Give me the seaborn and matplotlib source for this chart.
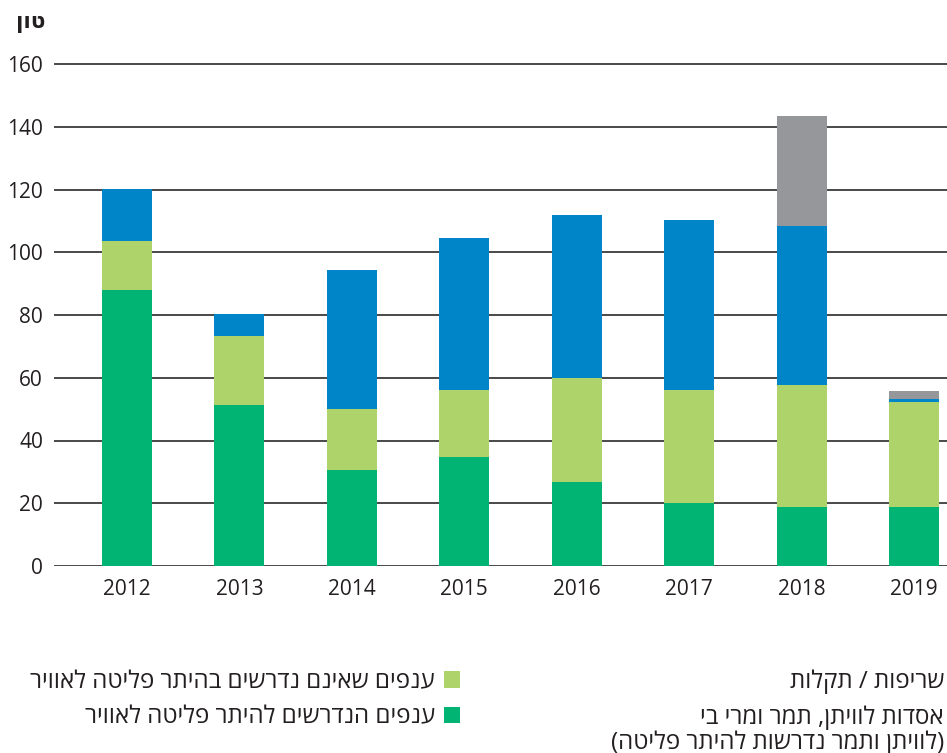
import numpy as np
import pandas as pd
import matplotlib
matplotlib.use("Agg")
import matplotlib.pyplot as plt
import seaborn as sns
from matplotlib.patches import Patch
from matplotlib import font_manager as fm

# ---------------- data ----------------
years = ["2012", "2013", "2014", "2015", "2016", "2017", "2018", "2019"]
permit_required = [88.0, 51.3, 30.6, 34.7, 26.8, 20.1, 18.8, 18.8]
permit_not_required = [15.6, 22.0, 19.4, 21.4, 33.1, 36.0, 38.9, 33.5]
rigs = [16.4, 7.0, 44.3, 48.4, 52.0, 54.2, 50.7, 0.9]
fires_failures = [0.0, 0.0, 0.0, 0.0, 0.0, 0.0, 35.0, 2.6]
y_ticks = [0, 20, 40, 60, 80, 100, 120, 140, 160]

unit_label = "טון"
lbl_not_required = "ענפים שאינם נדרשים בהיתר פליטה לאוויר"
lbl_required = "ענפים הנדרשים להיתר פליטה לאוויר"
lbl_fires = "שריפות / תקלות"
lbl_rigs = "אסדות לוויתן, תמר ומרי בי\n(לוויתן ותמר נדרשות להיתר פליטה)"

c_required = "#02B474"
c_not_required = "#ADD36A"
c_rigs = "#0085C8"
c_fires = "#96979B"


def rtl(s):
    lines = []
    for line in s.split("\n"):
        r = line[::-1]
        r = r.translate(str.maketrans("()", ")("))
        lines.append(r)
    return "\n".join(lines)


def has_hebrew(name):
    try:
        path = fm.findfont(fm.FontProperties(family=name), fallback_to_default=False)
    except Exception:
        return False
    try:
        from fontTools.ttLib import TTFont
        f = TTFont(path, fontNumber=0)
        return 0x05D0 in f.getBestCmap()
    except Exception:
        return False


sns.set_theme(style="white")
family = "DejaVu Sans"
for cand in ["Open Sans", "Noto Sans", "Liberation Sans", "DejaVu Sans"]:
    if has_hebrew(cand):
        family = cand
        break
plt.rcParams["font.family"] = [family, "DejaVu Sans"]

W, H = 947, 753
fig = plt.figure(figsize=(W / 100, H / 100), dpi=100)
px_per_unit = (566 - 64) / 160.0
ytop = 162
ax = fig.add_axes([54 / W, (H - 566) / H, (W - 54) / W, (ytop * px_per_unit) / H])

bottom = np.zeros(len(years))
for vals, col in [(permit_required, c_required),
                  (permit_not_required, c_not_required),
                  (rigs, c_rigs),
                  (fires_failures, c_fires)]:
    vals = np.asarray(vals, dtype=float)
    sns.barplot(x=years, y=vals, order=years, color=col, saturation=1,
                width=0.445, bottom=bottom, linewidth=0, errorbar=None, ax=ax)
    bottom = bottom + vals

spacing = 112.43
left_lim = -(127 - 54) / spacing
right_lim = (W - 127) / spacing
ax.set_xlim(left_lim, right_lim)
ax.set_ylim(0, ytop)
ax.set_yticks(y_ticks)
ax.set_yticklabels([str(t) for t in y_ticks])
ax.set_xlabel("")
ax.set_ylabel("")
for s in ax.spines.values():
    s.set_visible(False)
ax.yaxis.grid(True, color="#2a2a2a", linewidth=1.2)
ax.xaxis.grid(False)
ax.set_axisbelow(True)
ax.tick_params(axis="both", length=0, labelsize=15, labelcolor="#231F20")
ax.tick_params(axis="y", pad=8)
ax.tick_params(axis="x", pad=9.2)

fig.text(45 / W, 1 - 12 / H, rtl(unit_label), ha="right", va="top",
         fontsize=15.5, fontweight="bold", color="#231F20")

fs = 17.4
common = dict(frameon=False, markerfirst=False, fontsize=fs, handlelength=0.66,
              handleheight=0.66, handletextpad=0.37, labelspacing=0.47,
              borderpad=0, borderaxespad=0, loc="upper right")

hA = [Patch(facecolor=c_not_required, edgecolor="none"),
      Patch(facecolor=c_required, edgecolor="none")]
legA = fig.legend(hA, [rtl(lbl_not_required), rtl(lbl_required)],
                  bbox_to_anchor=(460 / W, 1 - 670 / H), **common)
for t in legA.get_texts():
    t.set_color("#231F20")

hB = [Patch(facecolor=c_fires, edgecolor="none"),
      Patch(facecolor=c_rigs, edgecolor="none")]
legB = fig.legend(hB, [rtl(lbl_fires), rtl(lbl_rigs)],
                  bbox_to_anchor=(969 / W, 1 - 670 / H), **common)
for t in legB.get_texts():
    t.set_color("#231F20")
    t.set_multialignment("right")
    t.set_linespacing(0.99)

fig.savefig("out.png", dpi=100)
